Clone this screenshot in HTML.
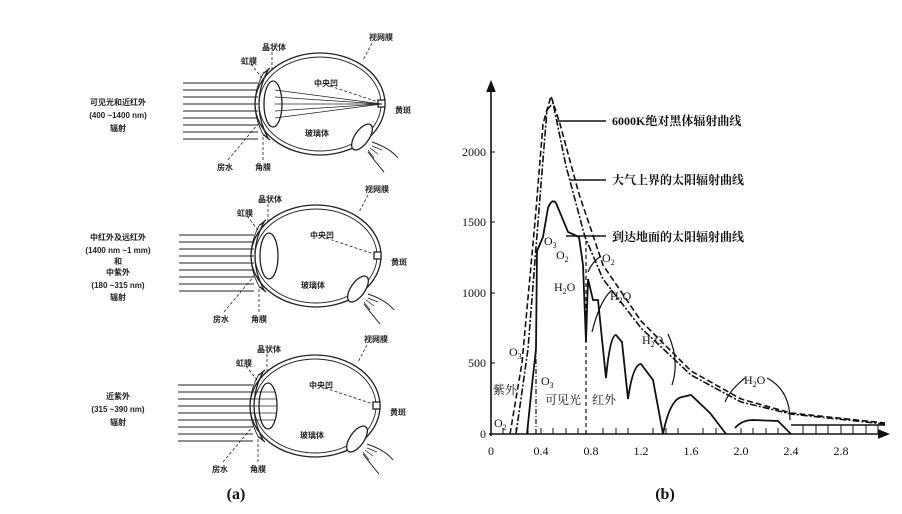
<!DOCTYPE html>
<html><head><meta charset="utf-8"><style>
html,body{margin:0;padding:0;background:#fff;}
svg{display:block}
.t{font-family:"Liberation Sans","Noto Sans CJK SC",sans-serif;font-size:8px;fill:#222;font-weight:bold}
.s{font-family:"Liberation Serif","Noto Serif CJK SC",serif;fill:#111}
</style></head><body>
<svg width="902" height="514" viewBox="0 0 902 514" xmlns="http://www.w3.org/2000/svg">
<rect width="902" height="514" fill="#fff"/>
<defs>
<g id="eye" fill="none" stroke="#222" stroke-width="1.3">
  <ellipse cx="320" cy="104" rx="65" ry="51"/>
  <ellipse cx="320" cy="104" rx="61" ry="47" stroke-width="0.9"/>
  <path d="M268 70 Q250 104 268 138" stroke="#222"/>
  <path d="M264 72 Q246 104 264 136" stroke-width="0.9"/>
  <ellipse cx="273" cy="104" rx="9" ry="23" fill="#fff"/>
  <line x1="264" y1="73" x2="270" y2="68"/>
  <line x1="264" y1="135" x2="270" y2="140"/>
  <rect x="378" y="100" width="7" height="7" fill="#fff"/>
  <ellipse cx="362" cy="137" rx="7" ry="15" transform="rotate(35 362 137)" fill="#fff"/>
  <path d="M372 142 Q390 148 398 158 M368 152 Q378 165 384 172" stroke-width="1"/>
  <path d="M370 148 l8 6 M372 146 l10 4 M368 150 l6 8" stroke-width="0.7"/>
  <g stroke-dasharray="3,2" stroke-width="0.8">
    <line x1="251" y1="64" x2="262" y2="78"/>
    <line x1="272" y1="52" x2="272" y2="72"/>
    <line x1="372" y1="43" x2="363" y2="60"/>
    <line x1="330" y1="86" x2="378" y2="102"/>
    <line x1="228" y1="160" x2="258" y2="124"/>
    <line x1="263" y1="160" x2="263" y2="136"/>
  </g>
</g>
<g id="rays" stroke="#222" stroke-width="0.9">
  <line x1="183" y1="83" x2="258" y2="83"/><line x1="183" y1="90" x2="258" y2="90"/>
  <line x1="183" y1="97" x2="258" y2="97"/><line x1="183" y1="104" x2="258" y2="104"/>
  <line x1="183" y1="111" x2="258" y2="111"/><line x1="183" y1="118" x2="258" y2="118"/>
  <line x1="183" y1="125" x2="258" y2="125"/><line x1="183" y1="132" x2="258" y2="132"/>
  <line x1="183" y1="139" x2="258" y2="139"/>
</g>
<g id="lbl">
  <text class="t" x="262" y="50">晶状体</text>
  <text class="t" x="241" y="64">虹膜</text>
  <text class="t" x="369" y="40">视网膜</text>
  <text class="t" x="314" y="86">中央凹</text>
  <text class="t" x="395" y="113">黄斑</text>
  <text class="t" x="305" y="136">玻璃体</text>
  <text class="t" x="217" y="170">房水</text>
  <text class="t" x="255" y="170">角膜</text>
</g>
</defs>

<!-- Eye 1 -->
<use href="#eye"/><use href="#rays"/><use href="#lbl"/>
<g stroke="#222" stroke-width="0.8">
  <line x1="275" y1="90" x2="382" y2="104"/><line x1="275" y1="97" x2="382" y2="104"/>
  <line x1="275" y1="111" x2="382" y2="104"/><line x1="275" y1="118" x2="382" y2="104"/>
  <line x1="275" y1="104" x2="382" y2="104"/>
</g>
<text class="t" x="118" y="105" text-anchor="middle">可见光和近红外</text>
<text class="t" x="118" y="118" text-anchor="middle">(400 ~1400 nm)</text>
<text class="t" x="118" y="131" text-anchor="middle">辐射</text>

<!-- Eye 2 -->
<g transform="translate(-4,152)"><use href="#eye"/><use href="#rays"/><use href="#lbl"/></g>
<text class="t" x="118" y="240" text-anchor="middle">中红外及远红外</text>
<text class="t" x="118" y="253" text-anchor="middle">(1400 nm ~1 mm)</text>
<text class="t" x="118" y="264" text-anchor="middle">和</text>
<text class="t" x="118" y="275" text-anchor="middle">中紫外</text>
<text class="t" x="118" y="288" text-anchor="middle">(180 ~315 nm)</text>
<text class="t" x="118" y="300" text-anchor="middle">辐射</text>

<!-- Eye 3 -->
<g transform="translate(-5,302)"><use href="#eye"/><use href="#rays"/><use href="#lbl"/>
<g stroke="#222" stroke-width="0.8"><line x1="258" y1="90" x2="280" y2="90"/><line x1="258" y1="97" x2="282" y2="97"/><line x1="258" y1="104" x2="282" y2="104"/><line x1="258" y1="111" x2="282" y2="111"/><line x1="258" y1="118" x2="280" y2="118"/></g></g>
<text class="t" x="118" y="399" text-anchor="middle">近紫外</text>
<text class="t" x="118" y="412" text-anchor="middle">(315 ~390 nm)</text>
<text class="t" x="118" y="425" text-anchor="middle">辐射</text>

<!-- Chart b -->
<g stroke="#111" fill="none" stroke-width="1.6">
  <line x1="491" y1="436" x2="491" y2="84"/>
  <path d="M487 92 L491 82 L495 92" fill="#111"/>
  <line x1="489" y1="434" x2="884" y2="434"/>
  <path d="M878 430 L888 434 L878 438" fill="#111"/>
  <!-- blackbody dashed -->
  <path stroke-dasharray="6,3" d="M510 434 L522 363 L535 222 L543 124 L551 96 L560 124 L579 194 L603 265 L641 321 L691 371 L741 399 L791 413 L885 423"/>
  <!-- upper atmosphere dash-dot -->
  <path stroke-dasharray="7,2,2,2" d="M516 434 L528 349 L538 222 L547 110 L553 103 L566 166 L585 237 L603 279 L641 328 L691 375 L741 402 L791 414 L885 424"/>
  <!-- ground solid -->
  <path stroke-width="1.8" d="M527 434 L532 385 L536 349 L537 251 L543 237 L548 208 Q552 198 556 203 L561 215 L568 232 L579 237 L583 265 L586 342 L588 279 L593 300 L598 300 L606 378 Q610 335 616 335 L622 342 L628 399 Q633 364 641 364 L653 380 L663 434 Q670 399 682 397 L691 395 L710 413 L726 434"/>
  <path stroke-width="1.8" d="M735 428 Q742 420 753 420 L778 421 L791 434"/>
  <line x1="791" y1="425" x2="885" y2="425" stroke-width="1.6"/>
  <line x1="586" y1="434" x2="586" y2="240" stroke-dasharray="4,3" stroke-width="1.2"/>
  <line x1="536" y1="434" x2="536" y2="350" stroke-dasharray="5,2,1,2" stroke-width="1.2"/>
  <!-- leaders -->
  <line x1="557" y1="121" x2="606" y2="121" stroke-width="1.4"/>
  <line x1="570" y1="180" x2="606" y2="180" stroke-width="1.4"/>
  <line x1="566" y1="236" x2="606" y2="236" stroke-width="1.4"/>
  <!-- H2O arrows -->
  <path d="M668 334 Q680 360 672 385" stroke-width="1.2"/>
  <path d="M767 378 Q790 390 790 420" stroke-width="1.2"/>
  <path d="M745 378 Q730 390 725 402" stroke-width="1.2"/>
  <path d="M612 290 Q600 300 592 332" stroke-width="1.2"/>
  <path d="M601 256 Q592 262 588 272" stroke-width="1.2"/>
</g>
<g stroke="#111" stroke-width="1">
  <path d="M503 434v-6M516 434v-6M528 434v-6M541 434v-6M553 434v-6M566 434v-6M578 434v-6M603 434v-6M616 434v-6M628 434v-6M653 434v-6M666 434v-6M678 434v-6M703 434v-6M716 434v-6M741 434v-6M753 434v-6M766 434v-6M778 434v-6M803 434v-9M816 434v-9M828 434v-9M841 434v-9M853 434v-9M866 434v-9M878 434v-9"/>
  <path d="M491 363h4M491 293h4M491 222h4M491 152h4"/>
</g>
<g class="s" font-size="12">
  <text x="486" y="438" text-anchor="end">0</text>
  <text x="486" y="367" text-anchor="end">500</text>
  <text x="486" y="297" text-anchor="end">1000</text>
  <text x="486" y="226" text-anchor="end">1500</text>
  <text x="486" y="156" text-anchor="end">2000</text>
  <text x="491" y="455" text-anchor="middle">0</text>
  <text x="541" y="455" text-anchor="middle">0.4</text>
  <text x="591" y="455" text-anchor="middle">0.8</text>
  <text x="641" y="455" text-anchor="middle">1.2</text>
  <text x="691" y="455" text-anchor="middle">1.6</text>
  <text x="741" y="455" text-anchor="middle">2.0</text>
  <text x="791" y="455" text-anchor="middle">2.4</text>
  <text x="841" y="455" text-anchor="middle">2.8</text>
</g>
<g font-family="'Liberation Serif','Noto Serif CJK SC',serif" font-size="12" fill="#111" font-weight="bold">
  <text x="612" y="125">6000K绝对黑体辐射曲线</text>
  <text x="612" y="184">大气上界的太阳辐射曲线</text>
  <text x="612" y="241">到达地面的太阳辐射曲线</text>
</g>
<g class="s" font-size="12">
  <text x="544" y="245">O<tspan font-size="8" dy="3">3</tspan></text>
  <text x="556" y="259">O<tspan font-size="8" dy="3">2</tspan></text>
  <text x="602" y="262">O<tspan font-size="8" dy="3">2</tspan></text>
  <text x="554" y="291">H<tspan font-size="8" dy="3">2</tspan><tspan dy="-3">O</tspan></text>
  <text x="610" y="300">H<tspan font-size="8" dy="3">2</tspan><tspan dy="-3">O</tspan></text>
  <text x="642" y="344">H<tspan font-size="8" dy="3">2</tspan><tspan dy="-3">O</tspan></text>
  <text x="744" y="384">H<tspan font-size="8" dy="3">2</tspan><tspan dy="-3">O</tspan></text>
  <text x="509" y="356">O<tspan font-size="8" dy="3">3</tspan></text>
  <text x="541" y="385">O<tspan font-size="8" dy="3">3</tspan></text>
  <text x="494" y="427">O<tspan font-size="8" dy="3">2</tspan></text>
</g>
<g font-family="'Liberation Serif','Noto Serif CJK SC',serif" font-size="12" fill="#111">
  <text x="493" y="394">紫外</text>
  <text x="545" y="404">可见光</text>
  <text x="592" y="404">红外</text>
</g>
<text x="236" y="499" text-anchor="middle" font-family="'Liberation Serif',serif" font-weight="bold" font-size="16" fill="#111">(a)</text>
<text x="665" y="499" text-anchor="middle" font-family="'Liberation Serif',serif" font-weight="bold" font-size="16" fill="#111">(b)</text>
</svg>
</body></html>
